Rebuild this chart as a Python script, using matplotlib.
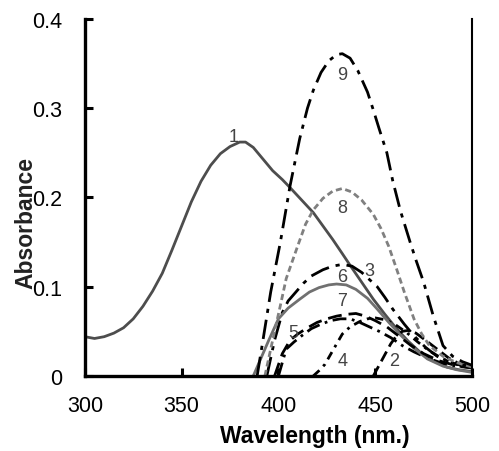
import matplotlib
matplotlib.use("Agg")
import matplotlib.pyplot as plt

plt.rcParams['font.family'] = ['Liberation Sans', 'DejaVu Sans']

# Espectros (comprimento de onda em nm, absorbância)
wl_1 = [300, 305, 310, 315, 320, 325, 330, 335, 340, 345, 350, 355, 360, 365, 370,
        375, 380, 383, 387, 392, 397, 402, 406, 412, 418, 423, 428, 433, 437, 443,
        449, 455, 461, 467, 473, 480, 487, 493, 500]
abs_1 = [0.044, 0.042, 0.044, 0.048, 0.054, 0.064, 0.078, 0.095, 0.115, 0.141, 0.168,
         0.195, 0.218, 0.236, 0.249, 0.257, 0.262, 0.262, 0.256, 0.243, 0.230, 0.220,
         0.211, 0.197, 0.183, 0.168, 0.153, 0.137, 0.124, 0.105, 0.086, 0.069, 0.053,
         0.039, 0.027, 0.017, 0.010, 0.007, 0.005]

wl_2 = [449, 452, 455, 458, 461, 464, 467, 471, 476, 482, 488, 494, 500]
abs_2 = [0.0, 0.012, 0.024, 0.036, 0.045, 0.050, 0.051, 0.048, 0.040, 0.030, 0.020, 0.013, 0.010]

wl_3 = [394, 398, 402, 405, 409, 413, 417, 423, 428, 433, 438, 443, 447, 451, 455,
        459, 465, 470, 476, 482, 490, 500]
abs_3 = [0.0, 0.040, 0.071, 0.084, 0.094, 0.104, 0.112, 0.119, 0.123, 0.125, 0.123,
         0.116, 0.108, 0.100, 0.088, 0.075, 0.058, 0.045, 0.032, 0.022, 0.014, 0.010]

wl_4 = [418, 421, 424, 429, 433, 437, 442, 446, 450, 455, 460, 466, 472, 478, 485, 492, 500]
abs_4 = [0.0, 0.006, 0.013, 0.032, 0.047, 0.055, 0.061, 0.064, 0.065, 0.063, 0.058,
         0.049, 0.038, 0.028, 0.019, 0.013, 0.010]

wl_5 = [400, 404, 408, 412, 417, 422, 427, 432, 437, 442, 447, 452, 458, 464, 470,
        477, 485, 492, 500]
abs_5 = [0.0, 0.030, 0.038, 0.045, 0.053, 0.058, 0.062, 0.064, 0.064, 0.060, 0.055,
         0.050, 0.043, 0.034, 0.027, 0.020, 0.014, 0.011, 0.009]

wl_6 = [387, 391, 395, 400, 405, 411, 416, 421, 426, 430, 435, 440, 446, 451, 457,
        463, 470, 477, 485, 492, 500]
abs_6 = [0.0, 0.020, 0.040, 0.064, 0.076, 0.086, 0.094, 0.099, 0.102, 0.103, 0.102,
         0.097, 0.087, 0.075, 0.060, 0.046, 0.031, 0.019, 0.011, 0.007, 0.004]

wl_7 = [398, 402, 406, 410, 415, 420, 425, 430, 435, 440, 445, 450, 456, 462, 468,
        475, 483, 491, 500]
abs_7 = [0.0, 0.025, 0.040, 0.047, 0.054, 0.060, 0.064, 0.067, 0.069, 0.070, 0.067,
         0.062, 0.055, 0.045, 0.035, 0.025, 0.017, 0.012, 0.009]

wl_8 = [393, 397, 401, 404, 410, 414, 418, 423, 428, 433, 438, 443, 449, 453, 457,
        461, 465, 470, 474, 478, 485, 492, 500]
abs_8 = [0.0, 0.040, 0.079, 0.109, 0.146, 0.170, 0.186, 0.199, 0.207, 0.210, 0.206,
         0.197, 0.181, 0.165, 0.145, 0.120, 0.094, 0.064, 0.047, 0.034, 0.022, 0.015, 0.010]

wl_9 = [389, 392, 396, 401, 406, 411, 415, 418, 422, 426, 430, 433, 437, 441, 446,
        449, 452, 456, 459, 463, 468, 471, 475, 480, 485, 490, 495, 500]
abs_9 = [0.0, 0.040, 0.094, 0.150, 0.213, 0.266, 0.300, 0.320, 0.340, 0.353, 0.360,
         0.361, 0.356, 0.342, 0.318, 0.298, 0.277, 0.250, 0.219, 0.185, 0.150, 0.130,
         0.105, 0.067, 0.034, 0.022, 0.016, 0.012]

# posição dos rótulos numéricos das curvas (centro do texto: nm, absorbância)
label_text = ['1', '2', '3', '4', '5', '6', '7', '8', '9']
label_x = [377, 460, 447, 433, 407.5, 433, 433, 433, 433]
label_y = [0.268, 0.017, 0.118, 0.017, 0.049, 0.111, 0.084, 0.189, 0.338]

fig = plt.figure(figsize=(4.99, 4.52), dpi=100)
ax = fig.add_axes([0.170, 0.166, 0.776, 0.790])

dd = (0, (7, 2.5, 1.5, 2.5))
ax.plot(wl_1, abs_1, color='#4d4d4d', lw=2.0, ls='-')
ax.plot(wl_2, abs_2, color='black', lw=2.0, ls=(0, (4, 2)))
ax.plot(wl_3, abs_3, color='black', lw=2.0, ls=dd)
ax.plot(wl_4, abs_4, color='black', lw=2.0, ls=(0, (3, 2, 1, 2)))
ax.plot(wl_5, abs_5, color='black', lw=2.0, ls=(0, (5, 2, 1, 2)))
ax.plot(wl_6, abs_6, color='#707070', lw=2.0, ls='-')
ax.plot(wl_7, abs_7, color='black', lw=2.0, ls=(0, (5, 2.5)))
ax.plot(wl_8, abs_8, color='#808080', lw=2.0, ls=(0, (2.2, 1.3)))
ax.plot(wl_9, abs_9, color='black', lw=2.0, ls=dd)

for t, x, y in zip(label_text, label_x, label_y):
    ax.text(x, y, t, fontsize=13, color='#444444', ha='center', va='center')

ax.set_xlim(300, 500)
ax.set_ylim(0, 0.4)
ax.set_xticks([300, 350, 400, 450, 500])
ax.set_yticks([0, 0.1, 0.2, 0.3, 0.4])
ax.set_yticklabels(['0', '0.1', '0.2', '0.3', '0.4'])

ax.spines['top'].set_visible(False)
ax.spines['left'].set_linewidth(2.4)
ax.spines['bottom'].set_linewidth(2.4)
ax.spines['right'].set_linewidth(1.5)
ax.tick_params(axis='both', direction='in', length=6, width=2.2, labelsize=15.5, pad=14)
ax.tick_params(axis='y', pad=16)

fig.text(26 / 499, 1 - 223 / 452, 'Absorbance', rotation=90, fontsize=16.5,
         fontweight='bold', ha='center', va='center', color='#222222')
fig.text(315 / 499, 1 - 437 / 452, 'Wavelength (nm.)', fontsize=16.5,
         fontweight='bold', ha='center', va='center')

fig.savefig('out.png', dpi=100)
